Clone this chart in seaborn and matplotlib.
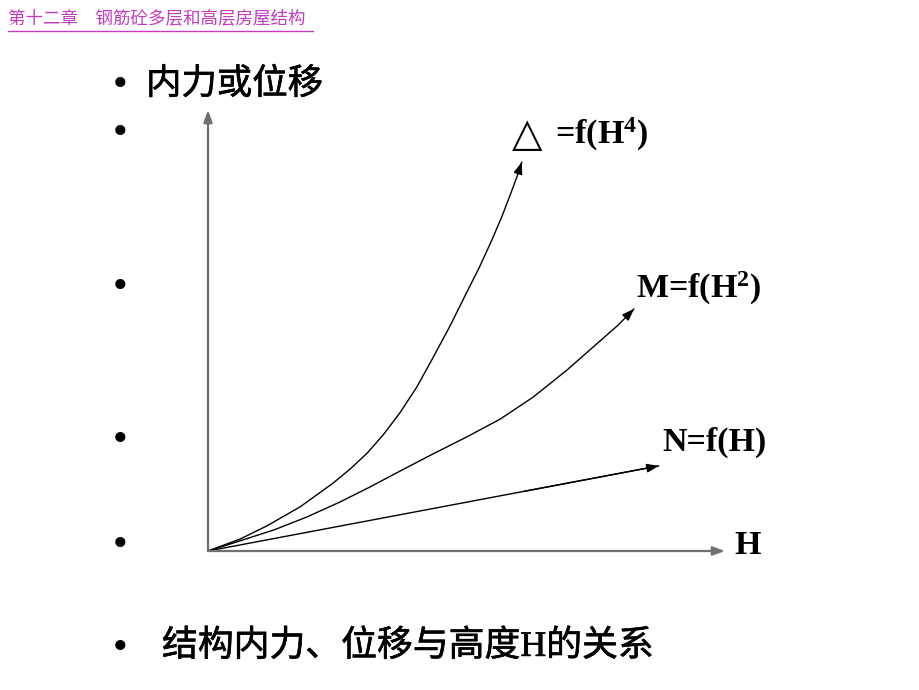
import matplotlib
matplotlib.use("Agg")
import matplotlib.pyplot as plt
import matplotlib.patheffects as pe
import seaborn as sns
import pandas as pd

sns.set_theme(style="white")
plt.rcParams['font.family'] = ['Noto Sans CJK SC', 'DejaVu Sans']
plt.rcParams['mathtext.fontset'] = 'custom'
plt.rcParams['mathtext.rm'] = 'Liberation Serif:bold'
plt.rcParams['mathtext.it'] = 'Liberation Serif:bold'
plt.rcParams['mathtext.bf'] = 'Liberation Serif:bold'

# ---- data (H vs internal force / displacement, arbitrary units) ----
delta_H = [0, 0.62, 1.14, 1.78, 2.42, 2.75, 3.08, 3.40, 3.71, 4.04, 4.35, 4.68,
           4.99, 5.26, 5.49, 5.69, 5.86, 5.98, 6.07]
delta_V = [0, 0.27, 0.57, 1.00, 1.54, 1.86, 2.22, 2.65, 3.13, 3.72, 4.38, 5.10,
           5.83, 6.46, 7.05, 7.60, 8.12, 8.50, 8.82]
m_H = [0, 0.62, 1.28, 1.91, 2.55, 3.13, 3.71, 4.35, 5.01, 5.65, 6.29, 6.94,
       7.58, 7.93, 8.24]
m_V = [0, 0.23, 0.48, 0.77, 1.11, 1.45, 1.81, 2.20, 2.59, 2.99, 3.49, 4.10,
       4.76, 5.12, 5.49]
n_H = [0, 8.72]
n_V = [0, 1.93]

header = "第十二章　钢筋砼多层和高层房屋结构"
title_top = "内力或位移"
caption = "结构内力、位移与高度H的关系"
label_delta = "=f(H$^{4}$)"
label_m = "M=f(H$^{2}$)"
label_n = "N=f(H)"
label_x = "H"

W, Hpx = 920, 690
fig = plt.figure(figsize=(9.2, 6.9), dpi=100)
fig.patch.set_facecolor("white")

# axes: origin at pixel (208,551), x to 725, y to 110
ax = fig.add_axes([208 / W, 1 - 551 / Hpx, (725 - 208) / W, (551 - 110) / Hpx])
ax.set_xlim(0, 10)
ax.set_ylim(0, 10)
ax.axis("off")

curves = [(delta_H, delta_V), (m_H, m_V), (n_H, n_V)]
for hx, vy in curves:
    df = pd.DataFrame({"H": hx, "V": vy})
    sns.lineplot(data=df, x="H", y="V", ax=ax, color="black", linewidth=1.0,
                 sort=False, estimator=None, solid_joinstyle="round")
    x0, y0 = hx[-2], vy[-2]
    x1, y1 = hx[-1], vy[-1]
    fx = x1 - (x1 - x0) * 0.3
    fy = y1 - (y1 - y0) * 0.3
    ax.annotate("", xy=(x1, y1), xytext=(fx, fy),
                arrowprops=dict(arrowstyle="-|>,head_length=0.6,head_width=0.22",
                                color="black", lw=1.0, shrinkA=0, shrinkB=0))

# axes arrows (gray)
for end in [(10, 0), (0, 10)]:
    ax.annotate("", xy=end, xytext=(0, 0),
                arrowprops=dict(arrowstyle="-|>,head_length=0.6,head_width=0.22",
                                color="#707070", lw=1.6, shrinkA=0, shrinkB=0))


def ftext(x, y, s, **kw):
    return fig.text(x / W, 1 - y / Hpx, s, **kw)


# header
ftext(8, 18, header, fontsize=12.6, color="#c03cc0", va="center", ha="left")
fig.add_artist(plt.Line2D([8 / W, 313 / W], [1 - 31 / Hpx, 1 - 31 / Hpx],
                          color="#c03cc0", lw=1.0))

# bullets
for by in [85, 133, 287, 440, 545, 648]:
    ftext(120, by, "•", fontsize=25, color="black", va="center", ha="center",
          family="DejaVu Sans")

medium = [pe.withStroke(linewidth=0.45, foreground="black")]
ftext(146, 84, title_top, fontsize=25.5, color="black", va="center", ha="left",
      path_effects=medium)
ftext(162, 647, caption, fontsize=25.8, color="black", va="center", ha="left",
      family=['Liberation Serif', 'Noto Sans CJK SC', 'DejaVu Sans'],
      path_effects=medium)

serif = dict(family="Liberation Serif", weight="bold", color="black",
             va="center", ha="left", fontsize=24.5)
ftext(512, 135, "△", fontsize=28.5, family=["DejaVu Sans"], color="black",
      va="center", ha="left")
ftext(555, 134, label_delta, **serif)
ftext(636, 288, label_m, **serif)
ftext(662, 442, label_n, **serif)
ftext(734, 545, label_x, **serif)

fig.savefig("out.png", dpi=100, facecolor="white")
